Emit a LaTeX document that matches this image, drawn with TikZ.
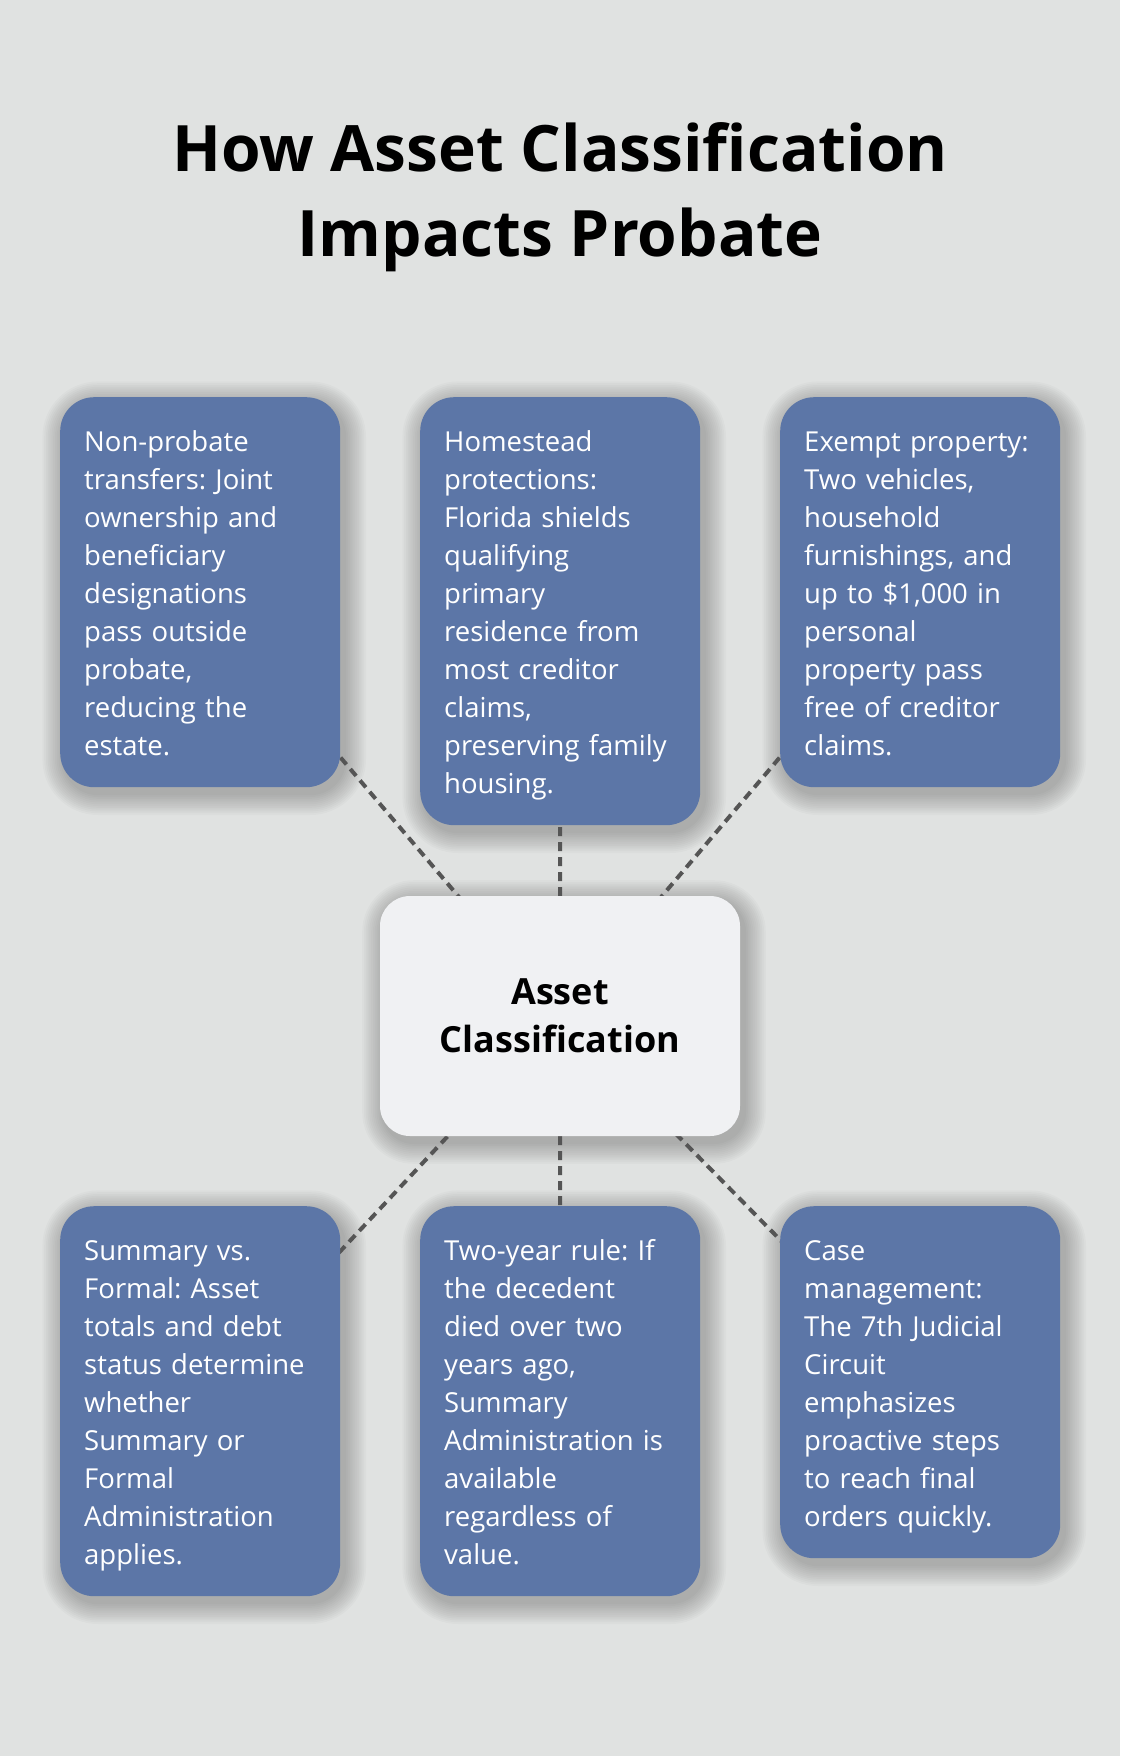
\documentclass[tikz,border=0pt]{standalone}
\usepackage{fontspec}
\setmainfont{Open Sans}
\frenchspacing
\usetikzlibrary{calc,backgrounds}
\pgfdeclarelayer{shadowl}
\pgfdeclarelayer{linel}
\pgfsetlayers{background,shadowl,linel,main}
\definecolor{bgcol}{HTML}{E0E2E1}
\definecolor{boxblue}{HTML}{5C76A7}
\definecolor{centerfill}{HTML}{F0F1F3}
\definecolor{linecol}{HTML}{555555}
\newcommand\tstr{\rule{0pt}{30pt}}
\newcommand\bstr{\rule[-8pt]{0pt}{8pt}}
\newcommand\softshadow[2]{%
  \begin{pgfonlayer}{shadowl}
  \foreach \i in {1,...,12}{
    \fill[black, opacity=0.02, rounded corners={#2+\i*1.8pt}]
      ($(#1.south west)+(4pt-\i*1.8pt,-6pt-\i*1.8pt)$) rectangle
      ($(#1.north east)+(4pt+\i*1.8pt,-6pt+\i*1.8pt)$);
  }
  \end{pgfonlayer}}
\tikzset{
  bluebox/.style={fill=boxblue, rounded corners=34pt, text width=232pt,
    inner xsep=24pt, inner ysep=24pt, align=left, text=white,
    font=\fontsize{27.5}{38}\selectfont, anchor=north west},
  centerbox/.style={fill=centerfill, rounded corners=30pt, minimum width=360pt,
    minimum height=240pt, align=center, text=black, inner sep=0pt,
    font=\fontsize{36}{48}\selectfont\bfseries},
  connector/.style={draw=linecol, line width=4pt, dash pattern=on 9pt off 6pt},
  titletext/.style={align=center, text=black, inner sep=0pt,
    font=\fontsize{64}{85}\selectfont\bfseries}
}
\begin{document}
\begin{tikzpicture}[x=1pt,y=1pt]
\useasboundingbox (0,0) rectangle (1120,-1756);
\begin{pgfonlayer}{background}
\fill[bgcol] (0,0) rectangle (1120,-1756);
\end{pgfonlayer}

\node[titletext, anchor=north] (title) at (560,-121)
  {\rule{0pt}{50pt}How Asset Classification\\Impacts Probate\rule[-16pt]{0pt}{16pt}};

\node[bluebox] (b1) at (60,-397) {\tstr Non-probate\\transfers: Joint\\ownership and\\beneficiary\\designations\\pass outside\\probate,\\reducing the\\estate.\bstr};
\node[bluebox] (b2) at (420,-397) {\tstr Homestead\\protections:\\Florida shields\\qualifying\\primary\\residence from\\most creditor\\claims,\\preserving family\\housing.\bstr};
\node[bluebox] (b3) at (780,-397) {\tstr Exempt property:\\Two vehicles,\\household\\furnishings, and\\up to \$1,000 in\\personal\\property pass\\free of creditor\\claims.\bstr};

\node[centerbox] (c) at (560,-1016) {Asset\\Classification};

\node[bluebox] (b4) at (60,-1206) {\tstr Summary vs.\\Formal: Asset\\totals and debt\\status determine\\whether\\Summary or\\Formal\\Administration\\applies.\bstr};
\node[bluebox] (b5) at (420,-1206) {\tstr Two-year rule: If\\the decedent\\died over two\\years ago,\\Summary\\Administration is\\available\\regardless of\\value.\bstr};
\node[bluebox] (b6) at (780,-1206) {\tstr Case\\management:\\The 7th Judicial\\Circuit\\emphasizes\\proactive steps\\to reach final\\orders quickly.\bstr};

\softshadow{b1}{34pt}
\softshadow{b2}{34pt}
\softshadow{b3}{34pt}
\softshadow{b4}{34pt}
\softshadow{b5}{34pt}
\softshadow{b6}{34pt}
\softshadow{c}{30pt}

\begin{pgfonlayer}{linel}
\draw[connector] (c.center) -- (b1.center);
\draw[connector] (c.center) -- (b2.center);
\draw[connector] (c.center) -- (b3.center);
\draw[connector] (c.center) -- (b4.center);
\draw[connector] (c.center) -- (b5.center);
\draw[connector] (c.center) -- (b6.center);
\end{pgfonlayer}
\end{tikzpicture}
\end{document}
